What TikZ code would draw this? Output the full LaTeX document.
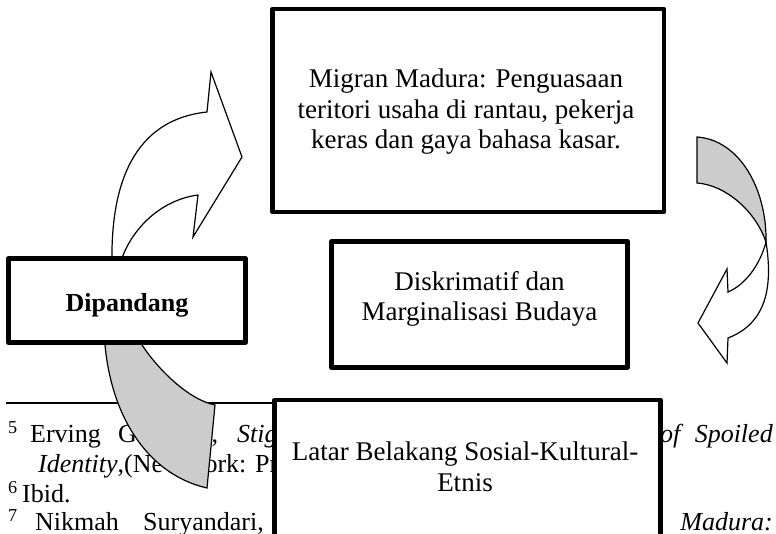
\documentclass[tikz,border=0pt]{standalone}
\usepackage{fontspec}
\setmainfont{Liberation Serif}
\begin{document}
\begin{tikzpicture}[x=1bp,y=-1bp,
  every node/.style={font=\fontsize{26bp}{30.5bp}\selectfont},
  box/.style={draw, line width=4.5bp, fill=white, line join=round, inner sep=0pt},
  lbl/.style={align=center, inner sep=0pt, font=\fontsize{27bp}{30.5bp}\selectfont},
  fn/.style={anchor=base west, inner sep=0pt},
  fne/.style={anchor=base east, inner sep=0pt},
  arr/.style={draw, line width=1.2bp, line join=miter, fill=white},
  garr/.style={draw, line width=1.2bp, line join=miter, fill=black!20}]
\useasboundingbox (0,0) rectangle (776,534);
\clip (0,0) rectangle (776,534);
% footnote rule and footnotes
\coordinate (rulea) at (6,403);
\coordinate (ruleb) at (276,403);
\draw[line width=1.4bp] (rulea) -- (ruleb);
\node[fn] (s5) at (8,442) {\textsuperscript{5}};
\node[fn] (f1a) at (30,442) {Erving};
\node[fn] (f1b) at (118,442) {Goffman,};
\node[fn] (f1c) at (237,442) {\textit{Stigma:}};
\node[fn] (f1d) at (660,442) {\textit{of}};
\node[fne] (f1e) at (773,442) {\textit{Spoiled}};
\node[fn] (f2) at (38,472) {\textit{Identity},(New York: Prentice-Hall};
\node[fn] (s6) at (8,502) {\textsuperscript{6}};
\node[fn] (f3) at (22,502) {Ibid.};
\node[fn] (s7) at (8,530) {\textsuperscript{7}};
\node[fn] (f4a) at (35,530) {Nikmah};
\node[fn] (f4b) at (143,530) {Suryandari,};
\node[fne] (f4c) at (773,530) {\textit{Madura:}};
% left circular arrow: grey tail
\draw[garr] (104,320) -- (105,345) .. controls (112,420) and (150,475) .. (207,488)
  -- (215,405) .. controls (190,400) and (160,372) .. (142,345) -- (138,320) -- cycle;
% left circular arrow: white head
\draw[arr] (112,264) .. controls (110,160) and (150,118) .. (207,112) -- (211,72) -- (242,157)
  -- (193,237) -- (198,195) .. controls (160,200) and (130,230) .. (120,264) -- cycle;
% right circular arrow: grey tail
\draw[garr] (697,137) .. controls (740,140) and (767,190) .. (766,242)
  .. controls (755,210) and (725,185) .. (697,183) -- cycle;
% right circular arrow: white head
\draw[arr] (766,242) .. controls (772,280) and (770,322) .. (728,338) -- (727,363) -- (698,323)
  -- (727,269) -- (728,292) .. controls (745,285) and (760,265) .. (766,242) -- cycle;
% boxes
\node[box, minimum width=391.5bp, minimum height=203bp] (top) at (468.25,110.5) {};
\node[lbl] (toplabel) at (466,112) {Migran Madura: Penguasaan\\teritori usaha di rantau, pekerja\\keras dan gaya bahasa kasar.};
\node[box, minimum width=296bp, minimum height=126bp] (mid) at (479.5,304.5) {};
\node[lbl] (midlabel) at (479.5,299) {Diskrimatif dan\\Marginalisasi Budaya};
\node[box, minimum width=237bp, minimum height=84bp] (dip) at (127,300.4) {};
\node[anchor=base, inner sep=0pt] (diplabel) at (127,311) {\textbf{Dipandang}};
\node[box, minimum width=386bp, minimum height=200bp] (bot) at (467.5,500) {};
\node[lbl] (botlabel) at (465,467) {Latar Belakang Sosial-Kultural-\\Etnis};
\end{tikzpicture}
\end{document}
